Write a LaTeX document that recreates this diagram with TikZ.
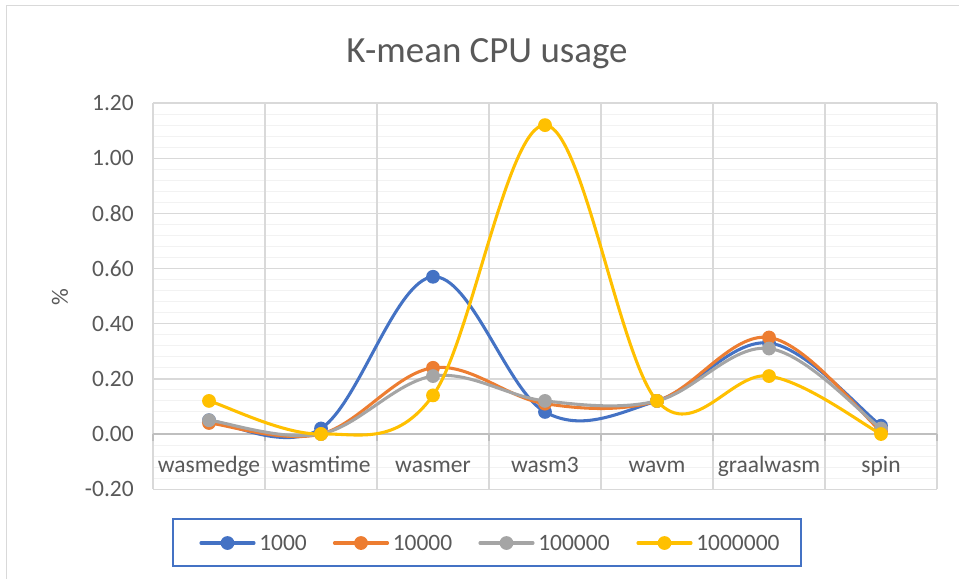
\documentclass[tikz,border=0pt]{standalone}
\usepackage{fontspec}
\setmainfont{Carlito}
\definecolor{sA}{HTML}{4472C4}
\definecolor{sB}{HTML}{ED7D31}
\definecolor{sC}{HTML}{A5A5A5}
\definecolor{sD}{HTML}{FFC000}
\definecolor{txt}{HTML}{595959}
\definecolor{gmaj}{HTML}{D9D9D9}
\definecolor{gmin}{HTML}{F2F2F2}
\definecolor{axc}{HTML}{BFBFBF}
\tikzset{
  minorgrid/.style={gmin, line width=0.75pt},
  majorgrid/.style={gmaj, line width=1pt},
  axisline/.style={axc, line width=1pt},
  ticklabel/.style={anchor=east, inner sep=0pt, text=txt, font=\fontsize{17.6}{20}\selectfont},
  catlabel/.style={anchor=base, inner sep=0pt, text=txt, font=\fontsize{17.6}{20}\selectfont},
  legtext/.style={anchor=west, inner sep=0pt, text=txt, font=\fontsize{17.6}{20}\selectfont},
  serline/.style={line width=2.3pt, line cap=round, line join=round},
}
\newcommand\seriescurve[2]{%
  \foreach \i in {0,...,5}{%
    \pgfmathtruncatemacro\im{max(\i-1,0)}%
    \pgfmathtruncatemacro\ip{\i+1}%
    \pgfmathtruncatemacro\ipp{min(\i+2,6)}%
    \pgfmathsetmacro\vm{#2[\im]}%
    \pgfmathsetmacro\va{#2[\i]}%
    \pgfmathsetmacro\vb{#2[\ip]}%
    \pgfmathsetmacro\vpp{#2[\ipp]}%
    \pgfmathsetmacro\xa{209+112*\i}%
    \pgfmathsetmacro\xb{209+112*\ip}%
    \pgfmathsetmacro\xm{209+112*\im}%
    \pgfmathsetmacro\xpp{209+112*\ipp}%
    \pgfmathsetmacro\ym{434-275.8*\vm}%
    \pgfmathsetmacro\ya{434-275.8*\va}%
    \pgfmathsetmacro\yb{434-275.8*\vb}%
    \pgfmathsetmacro\ypp{434-275.8*\vpp}%
    \draw[serline,#1] (\xa,\ya) .. controls ({\xa+(\xb-\xm)/6},{\ya+(\yb-\ym)/6}) and ({\xb-(\xpp-\xa)/6},{\yb-(\ypp-\ya)/6}) .. (\xb,\yb);
  }%
  \foreach \v [count=\j from 0] in #2 {%
    \fill[#1] ({209+112*\j},{434-275.8*\v}) circle[radius=6.9];
  }%
}
\begin{document}
\begin{tikzpicture}[x=0.75pt,y=-0.75pt]
\useasboundingbox (0,0) rectangle (959,578);
\fill[white] (0,0) rectangle (959,578);
% chart border
\draw[gmaj, line width=1.2pt] (6.5,600) -- (6.5,5.5) -- (980,5.5);
% title
\node[anchor=base, inner sep=0pt, text=txt, font=\fontsize{27.7}{32}\selectfont] (title) at (487,62) {K-mean CPU usage};
% minor grid
\foreach \k in {-4,...,29}{%
  \pgfmathtruncatemacro\r{mod(\k+100,5)}%
  \ifnum\r=0\else
    \draw[minorgrid] (153,{434-11.032*\k}) -- (937,{434-11.032*\k});
  \fi
}
% major grid
\foreach \k in {-1,1,2,3,4,5,6}{%
  \draw[majorgrid] (153,{434-55.16*\k}) -- (937,{434-55.16*\k});
}
\foreach \i in {0,...,7}{%
  \draw[majorgrid] ({153+112*\i},103) -- ({153+112*\i},489);
}
% category axis
\draw[axisline] (153,434) -- (937,434);
\foreach \i in {0,...,7}{%
  \draw[axisline] ({153+112*\i},434) -- ({153+112*\i},441);
}
% value labels
\foreach \k/\t [count=\n] in {-1/-0.20,0/0.00,1/0.20,2/0.40,3/0.60,4/0.80,5/1.00,6/1.20}{%
  \node[ticklabel] (yt\n) at (134,{434-55.16*\k}) {\t};
}
\node[rotate=90, inner sep=0pt, text=txt, font=\fontsize{17.6}{20}\selectfont] (ylab) at (60,297) {\%};
% category labels
\foreach \c [count=\i from 0] in {wasmedge,wasmtime,wasmer,wasm3,wavm,graalwasm,spin}{%
  \node[catlabel] (cat\i) at ({209+112*\i},472) {\c};
}
% series
\seriescurve{sA}{{0.05,0.02,0.57,0.08,0.12,0.33,0.03}}
\seriescurve{sB}{{0.04,0.00,0.24,0.11,0.12,0.35,0.01}}
\seriescurve{sC}{{0.05,0.00,0.21,0.12,0.12,0.31,0.02}}
\seriescurve{sD}{{0.12,0.00,0.14,1.12,0.12,0.21,0.00}}
% legend
\node[draw=sA, line width=1.1pt, minimum width=471pt, minimum height=35.25pt, inner sep=0pt] (legend) at (487,542.5) {};
\foreach \col/\xs/\lab [count=\n] in {sA/201/1000, sB/334.5/10000, sC/480/100000, sD/638/1000000}{%
  \draw[serline,\col] (\xs,543) -- ({\xs+53},543);
  \fill[\col] ({\xs+26.5},543) circle[radius=6.9];
  \node[legtext] (leg\n) at ({\xs+58},543) {\lab};
}
\end{tikzpicture}
\end{document}
